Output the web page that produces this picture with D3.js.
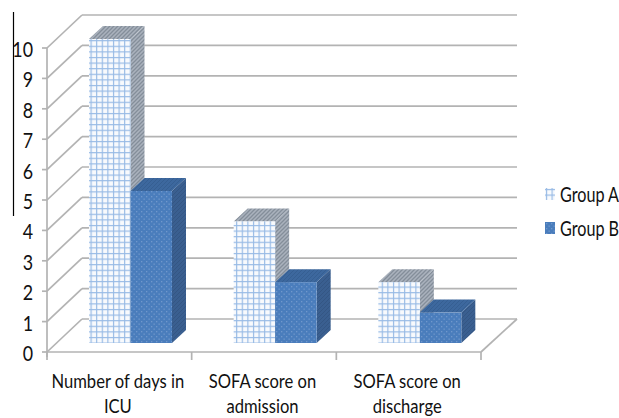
<!DOCTYPE html>
<html>
<head>
<meta charset="utf-8">
<script src="https://cdn.jsdelivr.net/npm/d3@7/dist/d3.min.js"></script>
<style>
html,body{margin:0;padding:0;background:#fff;overflow:hidden}
text{font-family:Lato,"Open Sans",sans-serif;fill:#111}
</style>
</head>
<body>
<svg id="chart" width="619" height="418"></svg>
<script>
// Outcome measures per treatment group
const categories = [["Number of days in","ICU"],["SOFA score on","admission"],["SOFA score on","discharge"]];
const seriesNames = ["Group A","Group B"];
const groupA = [10,4,2];
const groupB = [5,2,1];
const yTicks = [0,1,2,3,4,5,6,7,8,9,10];

const svg = d3.select("#chart");
const defs = svg.append("defs");

// Pseudo-3D projection: the back wall is the front plane shifted by (wallDx, wallDy)
const wallDx = 35, wallDy = -33;
const barDx = 14, barDy = -13;   // extrusion of each column
const floorInset = -9;           // columns stand this far behind the front edge

const x0 = d3.scaleBand().domain(d3.range(categories.length)).range([47,481]);
const x1 = d3.scaleBand().domain(seriesNames).range([42,125]);
const y = d3.scaleLinear().domain([0,10]).range([352,48]);

function hatch(id,size,bg,draw){
  const p = defs.append("pattern").attr("id",id).attr("patternUnits","userSpaceOnUse")
    .attr("width",size).attr("height",size);
  p.append("rect").attr("width",size).attr("height",size).attr("fill",bg);
  draw(p);
}
hatch("gridFront",5.6,"#f8fafd",p=>{
  p.append("path").attr("d","M1.5 0V5.6M0 1.5H5.6").attr("stroke","#97bae5").attr("stroke-width",1.15).attr("fill","none");
});
hatch("dotFront",5,"#4a7dbc",p=>{
  p.append("rect").attr("x",1).attr("y",1).attr("width",1.3).attr("height",1.3).attr("fill","#7098cc");
  p.append("rect").attr("x",3.5).attr("y",3.5).attr("width",1.3).attr("height",1.3).attr("fill","#7098cc");
});
hatch("stripeGray",4,"#aab2bd",p=>{
  p.append("path").attr("d","M-1 1L1 -1M-1 5L5 -1M3 5L5 3").attr("stroke","#848e9a").attr("stroke-width",1.3);
});
hatch("stripeBlue",4,"#3d689e",p=>{
  p.append("path").attr("d","M-1 1L1 -1M-1 5L5 -1M3 5L5 3").attr("stroke","#365f92").attr("stroke-width",1);
});
hatch("stripeBlueDark",4,"#3a5f90",p=>{
  p.append("path").attr("d","M-1 1L1 -1M-1 5L5 -1M3 5L5 3").attr("stroke","#345684").attr("stroke-width",1);
});

// Walls and floor
const wall = svg.append("g").attr("fill","none").attr("stroke","#b3b3b3").attr("stroke-width",1.7);
yTicks.forEach(t=>{
  wall.append("line").attr("x1",47+wallDx).attr("x2",481+wallDx+1)
    .attr("y1",y(t)+wallDy).attr("y2",y(t)+wallDy);
  wall.append("line").attr("x1",47).attr("x2",47+wallDx)
    .attr("y1",y(t)).attr("y2",y(t)+wallDy);
  wall.append("line").attr("x1",42).attr("x2",47).attr("y1",y(t)).attr("y2",y(t));
});
wall.append("line").attr("x1",47).attr("x2",47).attr("y1",y(10)).attr("y2",y(0)+5);
wall.append("line").attr("x1",47).attr("x2",481).attr("y1",y(0)).attr("y2",y(0));
wall.append("line").attr("x1",481).attr("x2",481+wallDx+1).attr("y1",y(0)).attr("y2",y(0)+wallDy);
d3.range(categories.length+1).forEach(i=>{
  const xp = 47 + i*x0.bandwidth();
  wall.append("line").attr("x1",xp).attr("x2",xp).attr("y1",y(0)).attr("y2",y(0)+8);
});

// Columns: front face, top and side
const fills = {
  "Group A":{front:"url(#gridFront)",top:"url(#stripeGray)",side:"url(#stripeGray)"},
  "Group B":{front:"url(#dotFront)",top:"url(#stripeBlue)",side:"url(#stripeBlueDark)"}
};
const rows = categories.flatMap((c,i)=>[
  {i,s:"Group A",v:groupA[i]},
  {i,s:"Group B",v:groupB[i]}
]);
const bars = svg.append("g").selectAll("g").data(rows).join("g");
const poly = pts => "M"+pts.map(p=>p.join(",")).join("L")+"Z";
bars.each(function(d){
  const g = d3.select(this);
  const l = x0(d.i)+x1(d.s), r = l+x1.bandwidth();
  const t = y(d.v)+floorInset, b = y(0)+floorInset;
  g.append("path").attr("d",poly([[r,t],[r+barDx,t+barDy],[r+barDx,b+barDy],[r,b]])).attr("fill",fills[d.s].side);
  g.append("path").attr("d",poly([[l,t],[l+barDx,t+barDy],[r+barDx,t+barDy],[r,t]])).attr("fill",fills[d.s].top);
  g.append("rect").attr("x",l).attr("y",t).attr("width",r-l).attr("height",b-t).attr("fill",fills[d.s].front);
});

// Narrowed label text: Lato set tall and compressed horizontally
function placed(sel,x,yy,sx){
  return sel.attr("transform",`translate(${x},${yy}) scale(${sx},1)`);
}

// Value axis labels
svg.append("g").selectAll("text").data(yTicks).join("text")
  .attr("text-anchor","end").attr("dominant-baseline","central")
  .attr("font-size",21).text(d=>d)
  .each(function(d){ placed(d3.select(this),33,y(d)+1,0.85); });

// Rule left of the value axis
svg.append("line").attr("x1",13.5).attr("x2",13.5).attr("y1",12).attr("y2",216)
  .attr("stroke","#000").attr("stroke-width",1.2);

// Category labels
const cat = svg.append("g").selectAll("g").data(categories).join("g");
cat.each(function(c,i){
  d3.select(this).selectAll("text").data(c).join("text")
    .attr("text-anchor","middle").attr("font-size",20).text(d=>d)
    .each(function(d,k){ placed(d3.select(this),x0(i)+x0.bandwidth()/2-1.5,388+k*25,0.83); });
});

// Legend
const legend = svg.append("g").selectAll("g").data(seriesNames).join("g")
  .attr("transform",(d,i)=>`translate(545,${188+i*34})`);
legend.append("rect").attr("width",10).attr("height",12).attr("fill",d=>fills[d].front);
legend.append("text").attr("dominant-baseline","central")
  .attr("font-size",21).text(d=>d)
  .each(function(){ placed(d3.select(this),15,6,0.77); });
</script>
</body>
</html>
